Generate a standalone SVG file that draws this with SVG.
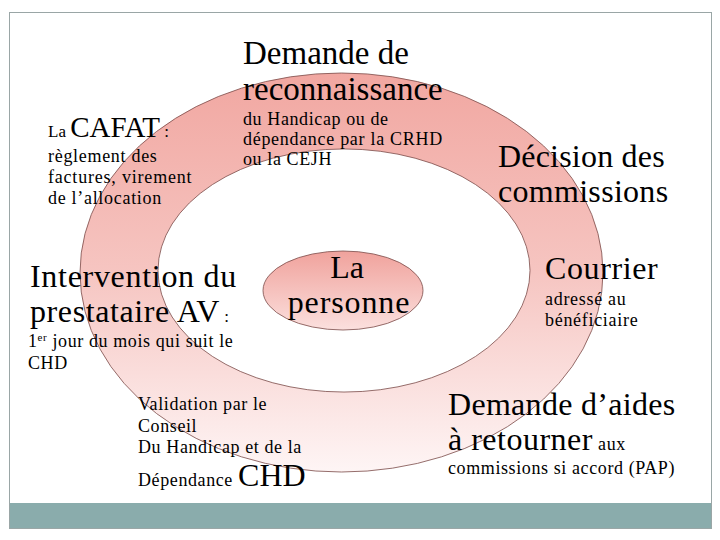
<svg xmlns="http://www.w3.org/2000/svg" width="720" height="540" viewBox="0 0 720 540">
<defs>
<linearGradient id="ringGrad" x1="0" y1="73" x2="0" y2="472" gradientUnits="userSpaceOnUse">
<stop offset="0" stop-color="#F1A7A1"/>
<stop offset="0.5" stop-color="#F6C5C1"/>
<stop offset="1" stop-color="#FEF5F5"/>
</linearGradient>
<linearGradient id="centerGrad" x1="0" y1="0" x2="0" y2="1">
<stop offset="0" stop-color="#F0A29C"/>
<stop offset="1" stop-color="#FBE0DE"/>
</linearGradient>
<style>
svg text, svg tspan { font-family: "Liberation Serif", "Times New Roman", serif !important; }
.shape { stroke: #7A4A48; stroke-width: 0.8; }
</style>
</defs>
<rect x="0" y="0" width="720" height="540" fill="#FFFFFF"/>
<rect x="9.5" y="12.5" width="702" height="516" fill="#FFFFFF" stroke="#9AA6A6" stroke-width="1"/>
<rect x="10" y="503" width="701" height="25" fill="#8AACAC"/>

<g id="ring">
<path class="shape" fill="url(#ringGrad)" fill-rule="evenodd" d="M 80 272.5 A 261.5 199.5 0 1 0 603 272.5 A 261.5 199.5 0 1 0 80 272.5 Z M 158 270.5 A 186 121.5 0 1 0 530 270.5 A 186 121.5 0 1 0 158 270.5 Z"/>
</g>

<g id="la-personne">
<ellipse class="shape" cx="343" cy="290.5" rx="80" ry="39.5" fill="url(#centerGrad)"/>
<text style="font-family:'Liberation Serif',serif" x="347" y="278" text-anchor="middle" font-size="32">La</text>
<text style="font-family:'Liberation Serif',serif" x="349" y="313" text-anchor="middle" font-size="32" letter-spacing="0.9">personne</text>
</g>

<g id="demande-reconnaissance">
<text style="font-family:'Liberation Serif',serif" x="243" y="64" font-size="33">Demande de</text>
<text style="font-family:'Liberation Serif',serif" x="243" y="100" font-size="33">reconnaissance</text>
<text style="font-family:'Liberation Serif',serif" font-size="18" letter-spacing="0.6" x="243" y="125">du Handicap ou de</text>
<text style="font-family:'Liberation Serif',serif" font-size="18" letter-spacing="0.7" x="243" y="145">dépendance par la CRHD</text>
<text style="font-family:'Liberation Serif',serif" font-size="18" letter-spacing="0.6" x="243" y="165">ou la CEJH</text>
</g>

<g id="cafat">
<text style="font-family:'Liberation Serif',serif" x="48" y="137"><tspan style="font-family:'Liberation Serif',serif" font-size="17">La </tspan><tspan style="font-family:'Liberation Serif',serif" font-size="29">CAFAT</tspan><tspan style="font-family:'Liberation Serif',serif" font-size="17"> :</tspan></text>
<text style="font-family:'Liberation Serif',serif" font-size="18" letter-spacing="0.7" x="48" y="162">règlement des</text>
<text style="font-family:'Liberation Serif',serif" font-size="18" letter-spacing="0.8" x="48" y="183">factures, virement</text>
<text style="font-family:'Liberation Serif',serif" font-size="18" letter-spacing="0.7" x="48" y="204">de l’allocation</text>
</g>

<g id="decision">
<text style="font-family:'Liberation Serif',serif" font-size="32" letter-spacing="0.2" x="498" y="167">Décision des</text>
<text style="font-family:'Liberation Serif',serif" font-size="32" letter-spacing="0.3" x="498" y="202">commissions</text>
</g>

<g id="intervention">
<text style="font-family:'Liberation Serif',serif" font-size="32" letter-spacing="0.7" x="30" y="287">Intervention du</text>
<text style="font-family:'Liberation Serif',serif" x="30" y="322"><tspan style="font-family:'Liberation Serif',serif" font-size="32" letter-spacing="0.6">prestataire AV</tspan><tspan style="font-family:'Liberation Serif',serif" font-size="17"> :</tspan></text>
<text style="font-family:'Liberation Serif',serif" font-size="18" letter-spacing="0.6" x="28" y="347">1<tspan style="font-family:'Liberation Serif',serif" font-size="11" dy="-6">er</tspan><tspan style="font-family:'Liberation Serif',serif" dy="6"> jour du mois qui suit le</tspan></text>
<text style="font-family:'Liberation Serif',serif" font-size="18" letter-spacing="0.6" x="28" y="369">CHD</text>
</g>

<g id="courrier">
<text style="font-family:'Liberation Serif',serif" font-size="32" letter-spacing="0.6" x="545" y="279">Courrier</text>
<text style="font-family:'Liberation Serif',serif" font-size="18" letter-spacing="0.7" x="545" y="305">adressé au</text>
<text style="font-family:'Liberation Serif',serif" font-size="18" letter-spacing="0.7" x="545" y="326">bénéficiaire</text>
</g>

<g id="validation">
<text style="font-family:'Liberation Serif',serif" font-size="18" letter-spacing="0.6" x="138" y="410">Validation par le</text>
<text style="font-family:'Liberation Serif',serif" font-size="18" letter-spacing="0.6" x="138" y="432">Conseil</text>
<text style="font-family:'Liberation Serif',serif" font-size="18" letter-spacing="0.6" x="138" y="453">Du Handicap et de la</text>
<text style="font-family:'Liberation Serif',serif" x="138" y="486"><tspan style="font-family:'Liberation Serif',serif" font-size="18" letter-spacing="0.6">Dépendance </tspan><tspan style="font-family:'Liberation Serif',serif" font-size="32">CHD</tspan></text>
</g>

<g id="demande-aides">
<text style="font-family:'Liberation Serif',serif" font-size="32" letter-spacing="0.3" x="448" y="415">Demande d’aides</text>
<text style="font-family:'Liberation Serif',serif" x="448" y="450"><tspan style="font-family:'Liberation Serif',serif" font-size="32" letter-spacing="0.5">à retourner</tspan><tspan style="font-family:'Liberation Serif',serif" font-size="18" letter-spacing="0.6"> aux</tspan></text>
<text style="font-family:'Liberation Serif',serif" font-size="18" letter-spacing="0.6" x="448" y="474">commissions si accord  (PAP)</text>
</g>
</svg>
